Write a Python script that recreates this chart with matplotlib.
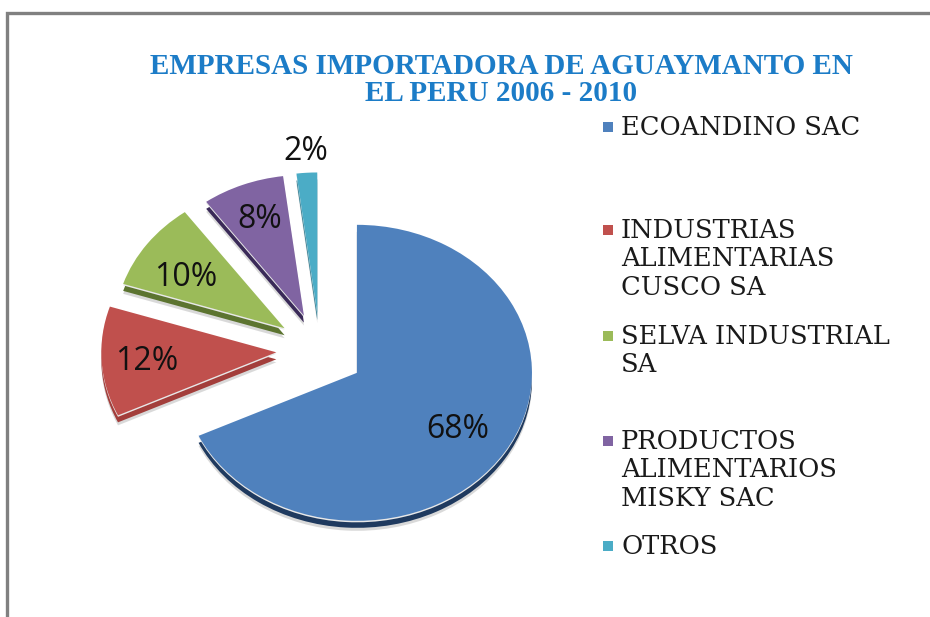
import matplotlib
matplotlib.use('Agg')
import matplotlib.pyplot as plt
from matplotlib.lines import Line2D
from matplotlib.patches import Rectangle

# Chart data
title = 'EMPRESAS IMPORTADORA DE AGUAYMANTO EN\nEL PERU 2006 - 2010'
companies = ['ECOANDINO SAC', 'INDUSTRIAS\nALIMENTARIAS\nCUSCO SA', 'SELVA INDUSTRIAL\nSA',
             'PRODUCTOS\nALIMENTARIOS\nMISKY SAC', 'OTROS']
shares = [68, 12, 10, 8, 2]

# Styles and layout (pixels of the 930x617 picture)
WIDTH, HEIGHT = 930, 617
top_colors = ['#4f81bd', '#c0504d', '#9bbb59', '#8064a2', '#4bacc6']
side_colors = ['#1f3a5f', '#a33e3b', '#5c7430', '#3a2a58', '#2f7f95']
# the back slices look shorter and the front one lower because of the perspective of the original
radius_scale = [1.0, 1.0, 0.97, 0.95, 0.95]
slice_drop = [3, 0, 0, 0, 0]
label_xy = [(458, 430), (147, 362), (186, 278), (260, 219), (306, 151)]
legend_y = [127, 230, 336, 441, 546]
CENTER_X, CENTER_Y = 320, 350
RADIUS_X, RADIUS_Y = 175, 148


def fx(x):
    return x / WIDTH


def fy(y):
    return 1 - y / HEIGHT


def draw_pie(ax, colors, dy=0.0, alpha=1.0):
    wedges, _ = ax.pie(shares, colors=colors, explode=[0.25] * len(shares), startangle=90,
                       counterclock=False, center=(0, dy), wedgeprops={'linewidth': 0, 'alpha': alpha})
    for wedge, scale, drop in zip(wedges, radius_scale, slice_drop):
        wedge.set_radius(scale)
        wedge.set_center((wedge.center[0], wedge.center[1] - drop / RADIUS_Y))
    return wedges


fig = plt.figure(figsize=(WIDTH / 100, HEIGHT / 100), dpi=100, facecolor='white')
ax = fig.add_axes([0, 0, 1, 1])

# Extruded look: soft shadow, dark side, white seam and then the top face
draw_pie(ax, ['#b5b5b5'] * 5, dy=-10 / RADIUS_Y, alpha=0.5)
draw_pie(ax, side_colors, dy=-7 / RADIUS_Y)
draw_pie(ax, ['#e8e8e8'] * 5, dy=-1.5 / RADIUS_Y)
draw_pie(ax, top_colors)

ax.set_aspect('auto')
ax.set_xlim(-CENTER_X / RADIUS_X, (WIDTH - CENTER_X) / RADIUS_X)
ax.set_ylim(-(HEIGHT - CENTER_Y) / RADIUS_Y, CENTER_Y / RADIUS_Y)
ax.axis('off')

# Percent labels
for share, (x, y) in zip(shares, label_xy):
    fig.text(fx(x), fy(y), f'{share}%', fontsize=23, family='Open Sans', color='#111111',
             ha='center', va='center')

fig.text(fx(501), fy(80), title, fontsize=21, family='Liberation Serif', fontweight='bold',
         color='#1c7cc7', ha='center', va='center', linespacing=1.02)

# Legend
for name, color, y in zip(companies, top_colors, legend_y):
    fig.add_artist(Rectangle((fx(603), fy(y + 5)), 10 / WIDTH, 10 / HEIGHT, transform=fig.transFigure,
                             facecolor=color, edgecolor='none'))
    fig.text(fx(621), fy(y - 12), name, fontsize=18.5, family='DejaVu Serif', color='#1a1a1a',
             ha='left', va='top', linespacing=1.17)

# Chart frame, cut off by the picture on the right and at the bottom
fig.add_artist(Line2D([fx(7), fx(7), 1], [0, fy(13), fy(13)], transform=fig.transFigure,
                      color='#808080', linewidth=2.4, solid_joinstyle='miter'))

fig.savefig('out.png', dpi=100)
